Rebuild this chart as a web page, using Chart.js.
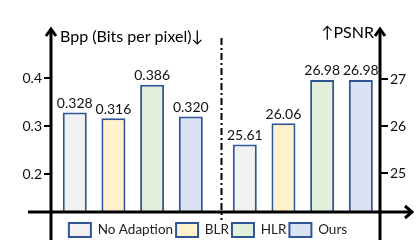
<!DOCTYPE html>
<html>
<head>
<meta charset="utf-8">
<script src="https://cdn.jsdelivr.net/npm/chart.js@4.4.1/dist/chart.umd.min.js"></script>
<style>
  html, body { margin: 0; padding: 0; background: #fff; }
  #wrap { width: 416px; height: 240px; position: relative; }
</style>
</head>
<body>
<div id="wrap"><canvas id="chartAdapt" width="416" height="240"></canvas></div>
<script>
// ---- data ----
const groups = ['Bpp', 'PSNR'];
const methods = ['No Adaption', 'BLR', 'HLR', 'Ours'];
const bppValues = [0.328, 0.316, 0.386, 0.320];
const psnrValues = [25.61, 26.06, 26.98, 26.98];
const bppTicks = [0.2, 0.3, 0.4];
const psnrTicks = [25, 26, 27];
const leftTitle = 'Bpp (Bits per pixel)\u2193';
const rightTitle = '\u2191PSNR';

// ---- styles ----
const fills = ['#f2f2f2', '#fff2cc', '#e2f0d9', '#dae3f3'];
const edge = '#2f5597';
const FONT = "Lato, 'Open Sans', sans-serif";

function makeSet(label, i, data, axis) {
    return {
        label: label, data: data, yAxisID: axis,
        backgroundColor: fills[i], borderColor: edge, borderWidth: 2,
        borderSkipped: 'bottom', categoryPercentage: 0.91, barPercentage: 0.62
    };
}

const datasets = [];
methods.forEach((m, i) => datasets.push(makeSet(m, i, [bppValues[i], null], 'y')));
methods.forEach((m, i) => datasets.push(makeSet(m, i, [null, psnrValues[i]], 'y1')));

// axes with arrows, divider, titles, value labels
const decor = {
    id: 'decor',
    afterDatasetsDraw(chart) {
        const ctx = chart.ctx;
        const a = chart.chartArea;
        const base = a.bottom;
        ctx.save();

        // value labels
        ctx.font = '14px ' + FONT;
        ctx.fillStyle = '#111';
        ctx.textAlign = 'center';
        ctx.textBaseline = 'bottom';
        chart.data.datasets.forEach((ds, di) => {
            const meta = chart.getDatasetMeta(di);
            meta.data.forEach((bar, j) => {
                const v = ds.data[j];
                if (v === null) return;
                const txt = ds.yAxisID === 'y' ? v.toFixed(3) : v.toFixed(2);
                ctx.fillText(txt, bar.x, bar.y - 2);
            });
        });

        // axes
        ctx.strokeStyle = '#000';
        ctx.lineWidth = 3;
        ctx.beginPath();
        ctx.moveTo(a.left, 240); ctx.lineTo(a.left, a.top - 1);
        ctx.moveTo(a.right, 240); ctx.lineTo(a.right, a.top - 1);
        ctx.moveTo(a.left - 23, base); ctx.lineTo(a.right + 32, base);
        ctx.stroke();
        // arrow heads
        ctx.beginPath();
        ctx.moveTo(a.left - 5, a.top + 6); ctx.lineTo(a.left, a.top - 1); ctx.lineTo(a.left + 5, a.top + 6);
        ctx.moveTo(a.right - 5, a.top + 6); ctx.lineTo(a.right, a.top - 1); ctx.lineTo(a.right + 5, a.top + 6);
        ctx.moveTo(a.right + 25, base - 6); ctx.lineTo(a.right + 32, base); ctx.lineTo(a.right + 25, base + 6);
        ctx.stroke();

        // dash-dot divider between the two groups
        const mid = Math.round(chart.scales.x.getPixelForValue(0.5)) + 3.5;
        ctx.lineWidth = 2;
        ctx.setLineDash([7, 3, 2, 3]);
        ctx.beginPath();
        ctx.moveTo(mid, a.top + 8); ctx.lineTo(mid, 220);
        ctx.stroke();
        ctx.setLineDash([]);

        // titles
        ctx.font = '16px ' + FONT;
        ctx.fillStyle = '#000';
        ctx.textBaseline = 'alphabetic';
        ctx.textAlign = 'left';
        ctx.fillText(leftTitle, a.left + 9, a.top + 12);
        ctx.textAlign = 'right';
        ctx.fillText(rightTitle, a.right - 6, a.top + 8);
        ctx.restore();
    }
};

new Chart(document.getElementById('chartAdapt'), {
    type: 'bar',
    data: { labels: groups, datasets: datasets },
    options: {
        responsive: false, animation: false, skipNull: true,
        layout: { padding: { top: 30, left: 0, right: 0, bottom: 0 } },
        scales: {
            x: {
                // the two groups sit a bit right of the default centres
                afterBuildTicks: s => { s._startValue = -0.481; s._valueRange = 1.935; },
                ticks: { display: false }, grid: { display: false }, border: { display: false },
                afterFit: s => { s.height = 8; }
            },
            y: {
                position: 'left', min: 0.121, max: 0.5,
                afterBuildTicks: s => { s.ticks = bppTicks.map(v => ({ value: v })); },
                afterFit: s => { s.width = 51; },
                grid: { drawOnChartArea: false, drawTicks: true, tickLength: 7, color: '#000', lineWidth: 2 },
                border: { display: false },
                ticks: { padding: 2, color: '#111', font: { family: FONT, size: 14 }, callback: v => v.toFixed(1) }
            },
            y1: {
                position: 'right', min: 24.18, max: 28.04,
                afterBuildTicks: s => { s.ticks = psnrTicks.map(v => ({ value: v })); },
                afterFit: s => { s.width = 36; },
                grid: { drawOnChartArea: false, drawTicks: true, tickLength: 8, color: '#000', lineWidth: 2 },
                border: { display: false },
                ticks: { padding: 2, color: '#111', font: { family: FONT, size: 14 }, callback: v => String(v) }
            }
        },
        plugins: {
            tooltip: { enabled: false },
            legend: {
                position: 'bottom', maxHeight: 20,
                labels: {
                    boxWidth: 22, boxHeight: 14, padding: 3, color: '#222',
                    font: { family: FONT, size: 13.5 },
                    filter: item => item.datasetIndex < 4
                }
            }
        }
    },
    plugins: [decor]
});
</script>
</body>
</html>
